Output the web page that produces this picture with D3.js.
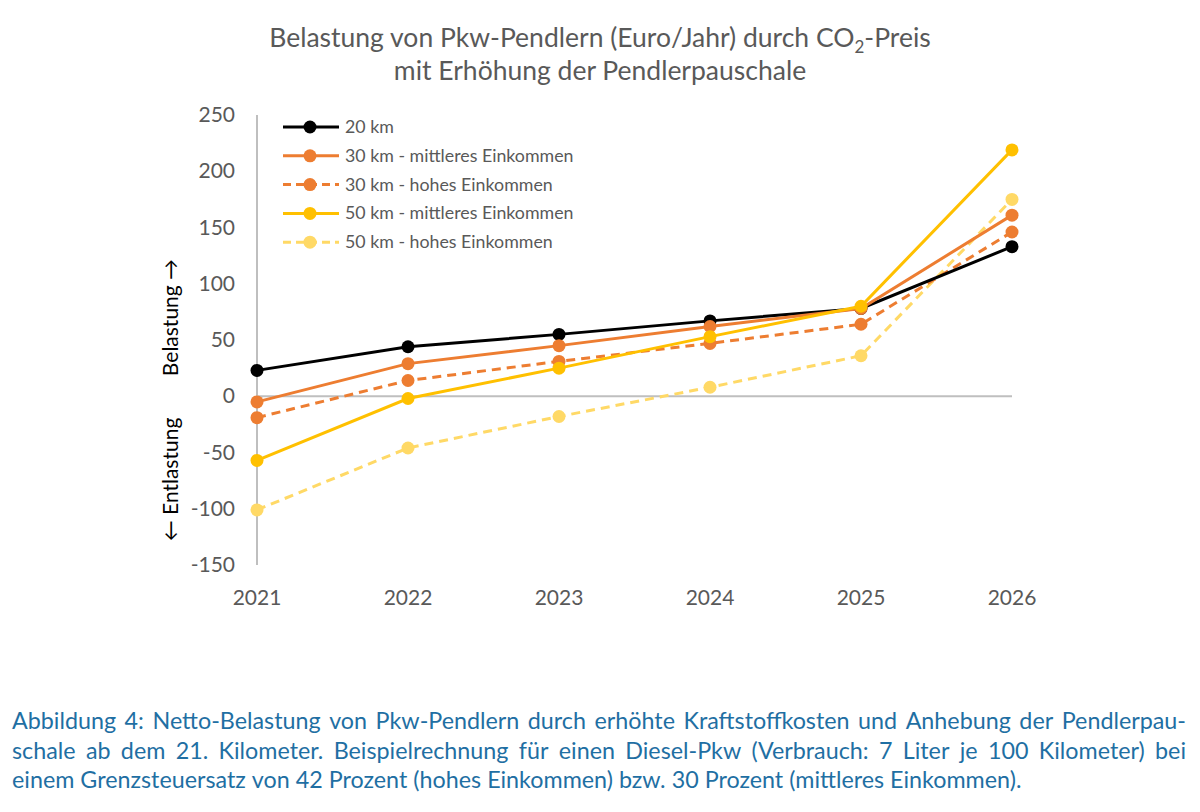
<!DOCTYPE html>
<html>
<head>
<meta charset="utf-8">
<script src="https://cdn.jsdelivr.net/npm/d3@7"></script>
<style>
  body { margin: 0; background: #fff; }
  svg { font-family: Lato, "Open Sans", sans-serif; }
</style>
</head>
<body>
<script>
const w = 1200
const h = 812

// data
const years = [2021, 2022, 2023, 2024, 2025, 2026]
const km20 = [23, 44, 55, 67, 78, 133]
const km30Mid = [-5, 29, 45, 62, 78, 161]
const km30High = [-19, 14, 31, 47, 64, 146]
const km50Mid = [-57, -2, 25, 53, 80, 219]
const km50High = [-101, -46, -18, 8, 36, 175]
const yTicks = [-150, -100, -50, 0, 50, 100, 150, 200, 250]

const seriesNames = ['20 km', '30 km - mittleres Einkommen', '30 km - hohes Einkommen',
  '50 km - mittleres Einkommen', '50 km - hohes Einkommen']
const seriesValues = [km20, km30Mid, km30High, km50Mid, km50High]
const seriesColors = ['#000000', '#ed7d31', '#ed7d31', '#ffc000', '#ffd966']
const seriesDashed = [false, false, true, false, true]

const captionLines = [
  'Abbildung 4: Netto-Belastung von Pkw-Pendlern durch erhöhte Kraftstoffkosten und Anhebung der Pendlerpau-',
  'schale ab dem 21. Kilometer. Beispielrechnung für einen Diesel-Pkw (Verbrauch: 7 Liter je 100 Kilometer) bei',
  'einem Grenzsteuersatz von 42 Prozent (hohes Einkommen) bzw. 30 Prozent (mittleres Einkommen).'
]

const svg = d3.select('body').append('svg')
    .attr('width', w)
    .attr('height', h)

const x = d3.scalePoint()
    .domain(years)
    .range([257, 1012])

const y = d3.scaleLinear()
    .domain([-150, 250])
    .range([565, 115])

// title
const title = svg.append('text')
    .attr('x', 600)
    .attr('y', 47)
    .attr('text-anchor', 'middle')
    .style('font-size', '26.5px')
    .style('fill', '#595959')
title.append('tspan').text('Belastung von Pkw-Pendlern (Euro/Jahr) durch CO')
title.append('tspan').attr('dy', 6).style('font-size', '17px').text('2')
title.append('tspan').attr('dy', -6).text('-Preis')
svg.append('text')
    .attr('x', 600)
    .attr('y', 80)
    .attr('text-anchor', 'middle')
    .style('font-size', '26.5px')
    .style('fill', '#595959')
    .text('mit Erhöhung der Pendlerpauschale')

// axes
svg.append('line')
    .attr('x1', x(2021)).attr('x2', x(2021))
    .attr('y1', y(250)).attr('y2', y(-150))
    .style('stroke', '#bfbfbf').style('stroke-width', 2)
svg.append('line')
    .attr('x1', x(2021)).attr('x2', x(2026))
    .attr('y1', y(0)).attr('y2', y(0))
    .style('stroke', '#bfbfbf').style('stroke-width', 2)

svg.append('g')
    .selectAll('text')
    .data(yTicks)
    .enter()
    .append('text')
    .attr('x', 235)
    .attr('y', function (d) { return y(d) + 7 })
    .attr('text-anchor', 'end')
    .style('font-size', '21px')
    .style('fill', '#595959')
    .text(function (d) { return d })

svg.append('g')
    .selectAll('text')
    .data(years)
    .enter()
    .append('text')
    .attr('x', function (d) { return x(d) })
    .attr('y', 605)
    .attr('text-anchor', 'middle')
    .style('font-size', '21px')
    .style('fill', '#595959')
    .text(function (d) { return d })

svg.append('text')
    .attr('transform', 'translate(178,' + y(70) + ') rotate(-90)')
    .attr('text-anchor', 'middle')
    .style('font-size', '21px')
    .style('fill', '#000')
    .text('Belastung →')
svg.append('text')
    .attr('transform', 'translate(178,' + y(-74) + ') rotate(-90)')
    .attr('text-anchor', 'middle')
    .style('font-size', '21px')
    .style('fill', '#000')
    .text('← Entlastung')

// lines
const line = d3.line()
    .x(function (d, i) { return x(years[i]) })
    .y(function (d) { return y(d) })

// draw back to front so the black line ends on top at 2025 like in the reference
const order = [4, 2, 0, 1, 3]
order.forEach(function (s) {
  const g = svg.append('g')
  g.append('path')
      .attr('d', line(seriesValues[s]))
      .style('fill', 'none')
      .style('stroke', seriesColors[s])
      .style('stroke-width', 3)
      .style('stroke-dasharray', seriesDashed[s] ? '9,6' : null)
  g.selectAll('circle')
      .data(seriesValues[s])
      .enter()
      .append('circle')
      .attr('cx', function (d, i) { return x(years[i]) })
      .attr('cy', function (d) { return y(d) })
      .attr('r', 6.5)
      .style('fill', seriesColors[s])
})

// legend
const legend = svg.append('g')
seriesNames.forEach(function (name, i) {
  const ly = 127 + i * 28.8
  legend.append('line')
      .attr('x1', 283).attr('x2', 339)
      .attr('y1', ly).attr('y2', ly)
      .style('stroke', seriesColors[i])
      .style('stroke-width', 3)
      .style('stroke-dasharray', seriesDashed[i] ? '8,5' : null)
  legend.append('circle')
      .attr('cx', 310).attr('cy', ly).attr('r', 6.5)
      .style('fill', seriesColors[i])
  legend.append('text')
      .attr('x', 345).attr('y', ly + 6)
      .style('font-size', '17.8px')
      .style('fill', '#595959')
      .text(name)
})

// caption, justified by spreading word gaps
captionLines.forEach(function (txt, li) {
  const ly = 729 + li * 29.5
  const words = txt.split(' ')
  const nodes = words.map(function (word) {
    return svg.append('text')
        .attr('y', ly)
        .style('font-size', '23.3px')
        .style('fill', '#1f6fa3')
        .text(word)
  })
  const widths = nodes.map(function (n) { return n.node().getComputedTextLength() })
  const total = d3.sum(widths)
  const last = li === captionLines.length - 1
  const gap = last ? 6 : (1186 - 12 - total) / (words.length - 1)
  let cx = 12
  nodes.forEach(function (n, i) {
    n.attr('x', cx)
    cx += widths[i] + gap
  })
})
</script>
</body>
</html>
